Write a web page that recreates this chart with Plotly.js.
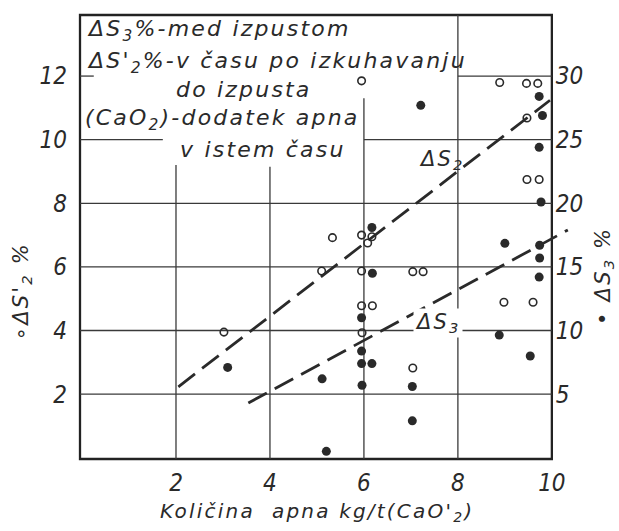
<!DOCTYPE html>
<html><head><meta charset="utf-8">
<script src="https://cdn.plot.ly/plotly-3.0.1.min.js"></script>
<style>
html,body{margin:0;padding:0;background:#fff;}
#chart{width:619px;height:531px;}
.annotation-text{letter-spacing:2.2px;}
</style></head>
<body><div id="chart"></div>
<script>
// ---- data ----
const xTicks = [2, 4, 6, 8, 10];
const leftTicks = [2, 4, 6, 8, 10, 12];
const rightTicks = [5, 10, 15, 20, 25, 30];

// open circles: ΔS2' % (left axis)
const s2X = [3.02, 5.95, 8.89, 9.46, 9.70, 9.47, 9.47, 9.73, 5.33, 5.95, 6.17, 6.08, 5.10, 5.95, 7.04, 7.26, 5.95, 6.18, 5.96, 7.04, 8.98, 9.60];
const s2Y = [3.95, 11.85, 11.80, 11.77, 11.77, 10.68, 8.75, 8.75, 6.92, 7.00, 6.95, 6.75, 5.87, 5.87, 5.85, 5.85, 4.78, 4.78, 3.93, 2.82, 4.89, 4.89];

// filled circles: ΔS3 % (right axis)
const s3X = [3.10, 7.21, 9.73, 9.80, 9.73, 9.77, 6.17, 9.00, 9.74, 9.74, 6.18, 9.73, 5.95, 8.88, 5.95, 5.95, 6.17, 9.54, 5.11, 5.96, 7.03, 7.03, 5.20];
const s3Y = [7.1, 27.7, 28.4, 26.9, 24.4, 20.1, 18.1, 16.85, 16.7, 15.7, 14.5, 14.2, 11.0, 9.64, 8.38, 7.4, 7.4, 8.0, 6.2, 5.7, 5.6, 2.9, 0.5];

// dashed trend lines
const fitS2X = [2.05, 9.96];
const fitS2Y = [2.23, 11.24];   // left axis units
const fitS3X = [3.54, 10.34];
const fitS3Y = [4.3, 17.9];     // right axis units

// ---- layout constants ----
const XMIN = -0.043, XFRAME = 10, XMAX = 10.45;
const YMIN = -0.04, YMAX = 13.92, RATIO = 2.5;
const framePos = (XFRAME - XMIN) / (XMAX - XMIN);
const ink = '#2a2a2a';
const FONT = 'DejaVu Sans, Noto Sans, sans-serif';
const NUMFONT = 'DejaVu Sans Condensed, DejaVu Sans, sans-serif';

const traces = [
  {x: fitS2X, y: fitS2Y, mode: 'lines', line: {color: ink, width: 2.8, dash: '21px,9px'}, hoverinfo: 'skip', yaxis: 'y'},
  {x: fitS3X, y: fitS3Y, mode: 'lines', line: {color: ink, width: 2.8, dash: '21px,9px'}, hoverinfo: 'skip', yaxis: 'y2'},
  {x: s2X, y: s2Y, mode: 'markers', marker: {symbol: 'circle-open', size: 7.5, color: ink, line: {width: 1.6, color: ink}}, yaxis: 'y'},
  {x: s3X, y: s3Y, mode: 'markers', marker: {symbol: 'circle', size: 9, color: ink}, yaxis: 'y2'}
];

// grid segments (partly hidden by the text block)
const hSeg = {2: [[XMIN, XFRAME]], 4: [[XMIN, XFRAME]], 6: [[XMIN, XFRAME]], 8: [[XMIN, XFRAME]],
              10: [[XMIN, 1.72], [6, XFRAME]], 12: [[XMIN, 0.25], [8, XFRAME]]};
const vTop = {2: 9.2, 4: 9.15, 6: 11.3, 8: YMAX};
const shapes = [];
leftTicks.forEach(v => (hSeg[v] || []).forEach(s => shapes.push({type: 'line', xref: 'x', yref: 'y', x0: s[0], x1: s[1], y0: v, y1: v, line: {color: '#3a3a3a', width: 1.3}, layer: 'below'})));
xTicks.forEach(v => { if (vTop[v] !== undefined) shapes.push({type: 'line', xref: 'x', yref: 'y', x0: v, x1: v, y0: YMIN, y1: vTop[v], line: {color: '#3a3a3a', width: 1.3}, layer: 'below'}); });
shapes.push({type: 'rect', xref: 'paper', yref: 'paper', x0: 0, x1: framePos, y0: 0, y1: 1, line: {color: '#222', width: 2.3}, layer: 'below'});

const tf = {family: FONT, size: 22, color: ink, style: 'italic'};
const lf = {family: FONT, size: 21, color: ink, style: 'italic'};
const box = (text, x, y) => ({text, x, y, xref: 'x', yref: 'y', xanchor: 'left', yanchor: 'middle', showarrow: false, font: tf});
const annotations = [
  box('ΔS<sub>3</sub>%-med izpustom', 0.064, 13.42),
  box("ΔS'<sub>2</sub>%-v času po izkuhavanju", 0.064, 12.43),
  box('do izpusta', 1.95, 11.58),
  box('(CaO<sub>2</sub>)-dodatek apna', 0.02, 10.62),
  box('v istem času', 2.04, 9.70),
  {text: 'ΔS<sub>2</sub>', x: 7.13, y: 9.36, xref: 'x', yref: 'y', xanchor: 'left', yanchor: 'middle', showarrow: false, font: lf},
  {text: 'ΔS<sub>3</sub>', x: 7.04, y: 4.25, xref: 'x', yref: 'y', xanchor: 'left', yanchor: 'middle', showarrow: false, bgcolor: '#fff', font: lf},
  {text: "Količina  apna kg/t(CaO'<sub>2</sub>)", x: 0.4805, y: -0.119, xref: 'paper', yref: 'paper', xanchor: 'center', yanchor: 'middle', showarrow: false, font: {family: FONT, size: 20, color: ink, style: 'italic'}},
  {text: "∘ΔS'<sub>2</sub> %", x: -0.1176, y: 0.378, xref: 'paper', yref: 'paper', xanchor: 'center', yanchor: 'middle', textangle: -90, showarrow: false, font: lf},
  {text: '• ΔS<sub>3</sub> %', x: 1.0625, y: 0.412, xref: 'paper', yref: 'paper', xanchor: 'center', yanchor: 'middle', textangle: -90, showarrow: false, font: lf}
];

const numFont = {family: NUMFONT, size: 24, color: ink, style: 'italic'};
const layout = {
  width: 619, height: 531,
  margin: {l: 80, r: 46, t: 15, b: 72, pad: 0},
  paper_bgcolor: '#fff', plot_bgcolor: '#fff',
  showlegend: false,
  xaxis: {range: [XMIN, XMAX], tickvals: xTicks, ticktext: xTicks.map(String), showgrid: false, zeroline: false, showline: false, ticks: '', tickfont: numFont, ticklabelstandoff: 7, fixedrange: true},
  yaxis: {range: [YMIN, YMAX], tickvals: leftTicks, ticktext: leftTicks.map(String), showgrid: false, zeroline: false, showline: false, ticks: '', tickfont: numFont, ticklabelstandoff: 12, fixedrange: true},
  yaxis2: {range: [YMIN * RATIO, YMAX * RATIO], overlaying: 'y', side: 'right', anchor: 'free', position: framePos, tickvals: rightTicks, ticktext: rightTicks.map(String), showgrid: false, zeroline: false, showline: false, ticks: '', tickfont: numFont, ticklabelstandoff: 3, fixedrange: true},
  shapes, annotations
};

Plotly.newPlot('chart', traces, layout, {displayModeBar: false, staticPlot: true});
</script>
</body></html>
